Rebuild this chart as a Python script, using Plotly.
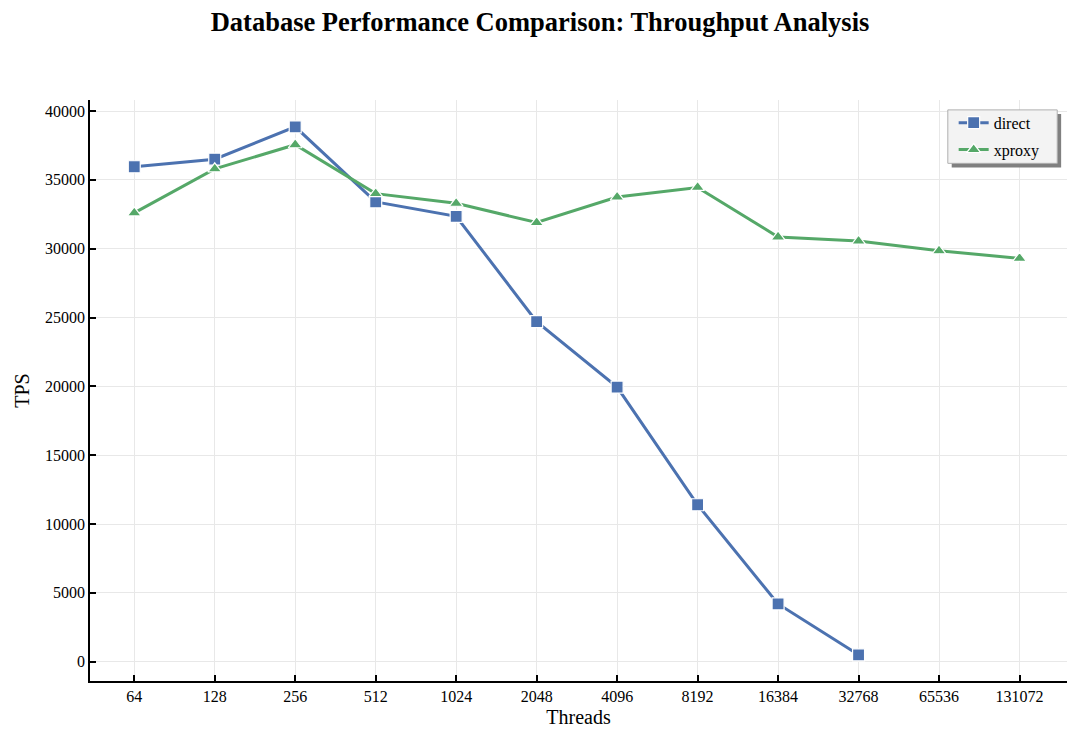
import plotly.graph_objects as go

threads = ["64", "128", "256", "512", "1024", "2048", "4096", "8192", "16384", "32768", "65536", "131072"]
direct_tps = [35950, 36500, 38850, 33400, 32350, 24700, 19950, 11400, 4200, 500]
xproxy_tps = [32600, 35800, 37550, 34000, 33300, 31900, 33750, 34450, 30850, 30550, 29850, 29300]
y_ticks = [0, 5000, 10000, 15000, 20000, 25000, 30000, 35000, 40000]

BLUE = "#4c72b0"
GREEN = "#55a868"
FONT = "Liberation Serif"

fig = go.Figure()
fig.add_trace(go.Scatter(
    x=list(range(len(direct_tps))), y=direct_tps, name="direct", mode="lines+markers",
    legendgroup="a",
    line=dict(color=BLUE, width=3),
    marker=dict(symbol="square", size=12, color=BLUE, line=dict(color="white", width=1.2)),
))
fig.add_trace(go.Scatter(
    x=list(range(len(xproxy_tps))), y=xproxy_tps, name="xproxy", mode="lines+markers",
    legendgroup="b",
    line=dict(color=GREEN, width=3),
    marker=dict(symbol="triangle-up", size=12, color=GREEN, line=dict(color="white", width=1.2)),
))

# legend shadow and frame
fig.add_shape(type="rect", xref="paper", yref="paper",
              x0=0.882, x1=0.994, y0=0.884, y1=0.976,
              fillcolor="#808080", line=dict(width=0), layer="above")
fig.add_shape(type="rect", xref="paper", yref="paper",
              x0=0.878, x1=0.990, y0=0.891, y1=0.983,
              fillcolor="#f3f3f3", line=dict(color="#b0b0b0", width=1), layer="above")

fig.update_layout(
    width=1080, height=744,
    paper_bgcolor="white", plot_bgcolor="white",
    margin=dict(l=90, r=13, t=100, b=63, autoexpand=False),
    font=dict(family=FONT, size=16, color="black"),
    title=dict(text="<b>Database Performance Comparison: Throughput Analysis</b>",
               x=0.5, xref="container", y=0.9704, yref="container",
               xanchor="center", yanchor="middle",
               font=dict(family=FONT, size=26.5, color="black")),
    xaxis=dict(
        tickmode="array", tickvals=list(range(len(threads))), ticktext=threads,
        range=[-0.55, 11.59],
        showline=True, linecolor="black", linewidth=1.5,
        ticks="inside", ticklen=6, tickwidth=1.5, tickcolor="black",
        showgrid=True, gridcolor="#e8e8e8", gridwidth=1, zeroline=False,
        title=dict(text="Threads", font=dict(family=FONT, size=20), standoff=6),
        tickfont=dict(family=FONT, size=16), automargin=False,
    ),
    yaxis=dict(
        range=[-1400, 40800], tickmode="array",
        tickvals=y_ticks, ticktext=[str(v) for v in y_ticks],
        showline=True, linecolor="black", linewidth=1.5,
        ticks="inside", ticklen=6, tickwidth=1.5, tickcolor="black",
        showgrid=True, gridcolor="#e8e8e8", gridwidth=1, zeroline=False,
        title=dict(text="TPS", font=dict(family=FONT, size=20), standoff=10),
        tickfont=dict(family=FONT, size=16), automargin=False,
    ),
    legend=dict(
        x=0.884, y=0.990, xanchor="left", yanchor="top",
        bgcolor="rgba(0,0,0,0)", borderwidth=0,
        font=dict(family=FONT, size=16),
        traceorder="grouped", tracegroupgap=3,
    ),
)

fig.write_html("out.html", config={"displayModeBar": False},
               post_script="document.body.style.margin='0';")
